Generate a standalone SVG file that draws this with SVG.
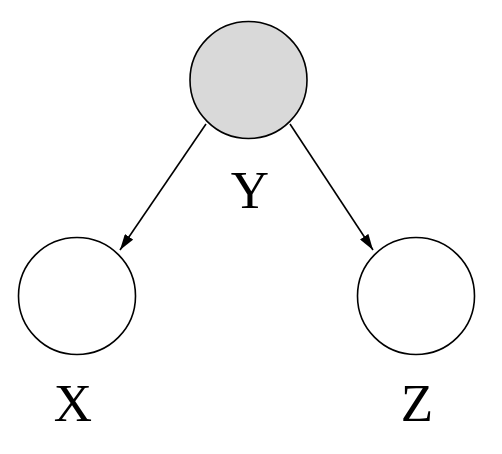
<svg xmlns="http://www.w3.org/2000/svg" width="502" height="454" viewBox="0 0 502 454">
<defs>
<marker id="arr" viewBox="0 0 16 10" refX="16" refY="5" markerWidth="16" markerHeight="10" markerUnits="userSpaceOnUse" orient="auto">
<path d="M0,0 L16,5 L0,10 z" fill="#000"/>
</marker>
<style>
.n{stroke:#000;stroke-width:1.6}
.t{font-family:"Liberation Serif","Times New Roman",serif;font-size:53px;fill:#000;text-anchor:middle}
.e{stroke:#000;stroke-width:1.6;fill:none;marker-end:url(#arr)}
</style>
</defs>
<rect width="502" height="454" fill="#fff"/>
<g id="connectors">
<line class="e" x1="206" y1="124" x2="120" y2="250"/>
<line class="e" x1="290" y1="124" x2="373" y2="250"/>
</g>
<g id="Y">
<circle class="n" cx="248.5" cy="80" r="58.5" fill="#d9d9d9"/>
<text class="t" x="250" y="208">Y</text>
</g>
<g id="X">
<circle class="n" cx="77" cy="296" r="58.5" fill="#fff"/>
<text class="t" x="73" y="421">X</text>
</g>
<g id="Z">
<circle class="n" cx="416" cy="296" r="58.5" fill="#fff"/>
<text class="t" x="417" y="421">Z</text>
</g>
</svg>
